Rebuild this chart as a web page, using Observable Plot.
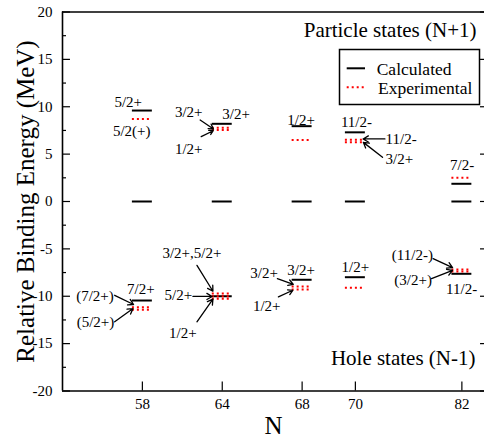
<!DOCTYPE html>
<html>
<head>
<meta charset="utf-8">
<script src="https://cdn.jsdelivr.net/npm/d3@7"></script>
<script src="https://cdn.jsdelivr.net/npm/@observablehq/plot@0.6"></script>
<style>
  html, body { margin: 0; padding: 0; background: #fff; overflow: hidden; }
  #wrap { position: relative; width: 484px; height: 440px; }
  #wrap svg, #wrap svg text { font-family: "Liberation Serif", "Times New Roman", serif !important; }
  #legend { position: absolute; left: 0; top: 0; pointer-events: none; }
</style>
</head>
<body>
<div id="wrap"></div>
<script>
// ---- data ----
const N = [58, 64, 68, 70, 82];
const slot = [3, 6, 9, 11, 15]; // axis layout: where each N sits on the x axis
const groundCalc = [0, 0, 0, 0, 0];
const particleCalc = [9.6, 8.2, 7.95, 7.3, 1.87];
const particleExp = [[8.72], [7.78, 7.54], [6.5], [6.52, 6.26], [2.5]];
const holeCalc = [-10.45, -10.0, -8.26, -7.99, -7.63];
const holeExp = [[-11.15, -11.43], [-9.72, -10.0, -10.27], [-8.97, -9.29], [-9.11], [-7.18, -7.39]];

const yMajor = [-20, -15, -10, -5, 0, 5, 10, 15, 20];
const yMinor = [-17.5, -12.5, -7.5, -2.5, 2.5, 7.5, 12.5, 17.5];

// level annotations: text, x (axis units), energy
const labelText = ["5/2+", "5/2(+)", "3/2+", "3/2+", "1/2+", "1/2+", "11/2-", "11/2-", "3/2+", "7/2-",
  "7/2+", "(7/2+)", "(5/2+)", "3/2+,5/2+", "5/2+", "1/2+", "3/2+", "3/2+", "1/2+", "1/2+", "(11/2-)", "(3/2+)", "11/2-"];
const labelX = [2.47, 2.6, 4.74, 6.52, 4.74, 8.96, 11.04, 12.72, 12.65, 15.01,
  2.94, 1.22, 1.24, 4.86, 4.35, 4.52, 7.57, 8.96, 7.67, 11.0, 13.14, 13.17, 14.99];
const labelY = [10.45, 7.47, 9.4, 9.2, 5.55, 8.6, 8.35, 6.6, 4.42, 3.8,
  -9.3, -9.96, -12.7, -5.5, -9.9, -13.9, -7.55, -7.26, -11.1, -6.9, -5.7, -8.3, -9.3];
// arrows: from (x1,y1) to (x2,y2)
const arrowFrom = [[5.17, 8.6], [5.21, 6.84], [12.11, 6.6], [12.02, 4.66],
  [1.96, -9.9], [1.96, -12.7], [5.05, -6.74], [4.9, -10.02], [5.05, -12.7], [8.07, -8.14], [8.11, -10.07], [13.92, -6.03], [13.86, -8.14]];
const arrowTo = [[5.67, 7.65], [5.66, 7.47], [11.29, 6.6], [11.3, 6.24],
  [2.67, -10.87], [2.65, -11.3], [5.65, -9.47], [5.62, -10.02], [5.65, -10.3], [8.67, -8.74], [8.65, -9.37], [14.65, -6.98], [14.65, -7.26]];

// ---- build tables ----
const calcLevels = [];
const expLevels = [];
N.forEach((n, i) => {
  calcLevels.push({u: slot[i], v: groundCalc[i]});
  calcLevels.push({u: slot[i], v: particleCalc[i]});
  calcLevels.push({u: slot[i], v: holeCalc[i]});
  particleExp[i].forEach(v => expLevels.push({u: slot[i], v}));
  holeExp[i].forEach(v => expLevels.push({u: slot[i], v}));
});
const labels = labelText.map((t, i) => ({t, u: labelX[i], v: labelY[i]}));
const arrows = arrowFrom.map((a, i) => ({x1: a[0], y1: a[1], x2: arrowTo[i][0], y2: arrowTo[i][1]}));

const HALF = 0.375;
const FONT = "Liberation Serif";

const chart = Plot.plot({
  width: 484,
  height: 440,
  marginLeft: 62,
  marginRight: 0,
  marginTop: 11.5,
  marginBottom: 49.5,
  style: {fontFamily: FONT, fontSize: "15px", color: "#000", background: "#fff", overflow: "hidden"},
  x: {domain: [0, 16], range: [62, 488]},
  y: {domain: [-20, 20]},
  marks: [
    // frame
    Plot.ruleX([0, 16], {y1: -20, y2: 20, stroke: "#000", strokeWidth: 1.6}),
    Plot.ruleY([-20, 20], {x1: 0, x2: 16, stroke: "#000", strokeWidth: 1.6}),
    // inner ticks
    Plot.ruleY(yMajor, {x1: 0, x2: 0.3, stroke: "#000", strokeWidth: 1.2}),
    Plot.ruleY(yMinor, {x1: 0, x2: 0.15, stroke: "#000", strokeWidth: 1.2}),
    Plot.ruleY(yMajor, {x1: 15.7, x2: 16, stroke: "#000", strokeWidth: 1.2}),
    Plot.ruleY(yMinor, {x1: 15.85, x2: 16, stroke: "#000", strokeWidth: 1.2}),
    Plot.ruleX(slot, {y1: -20, y2: -19.05, stroke: "#000", strokeWidth: 1.2}),
    // axes labels
    Plot.axisY({ticks: yMajor, tickSize: 0, tickPadding: 10, tickFormat: d => String(d), fontSize: 15, fontFamily: FONT, label: null}),
    Plot.axisX({ticks: slot, tickSize: 0, tickPadding: 7, tickFormat: d => String(N[slot.indexOf(d)]), fontSize: 15, fontFamily: FONT, label: null}),
    Plot.text(["Relative Binding Energy (MeV)"], {frameAnchor: "left", dx: -37, rotate: -90, fontSize: 25, fontFamily: FONT, lineAnchor: "middle", textAnchor: "middle", fill: "#000"}),
    Plot.text(["N"], {frameAnchor: "bottom", dx: 0, dy: 25, fontSize: 25, fontFamily: FONT, lineAnchor: "top", textAnchor: "middle", fill: "#000"}),
    // region titles
    Plot.text(["Particle states (N+1)"], {frameAnchor: "top-right", dx: -8, dy: 10.5, fontSize: 21, fontFamily: FONT, lineAnchor: "top", textAnchor: "end", fill: "#000"}),
    Plot.text(["Hole states (N-1)"], {frameAnchor: "bottom-right", dx: -9, dy: -41.4, fontSize: 21, fontFamily: FONT, lineAnchor: "top", textAnchor: "end", fill: "#000"}),
    // levels
    Plot.ruleY(calcLevels, {y: "v", x1: d => d.u - HALF, x2: d => d.u + HALF, stroke: "#000", strokeWidth: 2}),
    Plot.ruleY(expLevels, {y: "v", x1: d => d.u - HALF, x2: d => d.u + HALF, stroke: "#ff0000", strokeWidth: 2, strokeDasharray: "2,3"}),
    // annotations
    Plot.arrow(arrows, {x1: "x1", y1: "y1", x2: "x2", y2: "y2", stroke: "#000", strokeWidth: 1.3, headLength: 7}),
    Plot.text(labels, {x: "u", y: "v", text: "t", fontSize: 15, fontFamily: FONT, textAnchor: "middle", lineAnchor: "middle", fill: "#000"})
  ]
});

const wrap = document.getElementById("wrap");
wrap.appendChild(chart);

// legend (overlaid inside the plot area, as in the original)
const ns = "http://www.w3.org/2000/svg";
const lg = document.createElementNS(ns, "svg");
lg.setAttribute("id", "legend");
lg.setAttribute("width", 484);
lg.setAttribute("height", 440);
lg.innerHTML = `
  <rect x="339.5" y="49.5" width="140" height="55" fill="#fff" stroke="#000" stroke-width="1.5"/>
  <line x1="346.7" x2="365" y1="68.3" y2="68.3" stroke="#000" stroke-width="2"/>
  <line x1="346.7" x2="365" y1="87.3" y2="87.3" stroke="#ff0000" stroke-width="2" stroke-dasharray="2,3"/>
  <text x="376.7" y="74.5" font-size="17.5" fill="#000">Calculated</text>
  <text x="378" y="93.8" font-size="17.5" fill="#000">Experimental</text>
`;
wrap.appendChild(lg);
</script>
</body>
</html>
